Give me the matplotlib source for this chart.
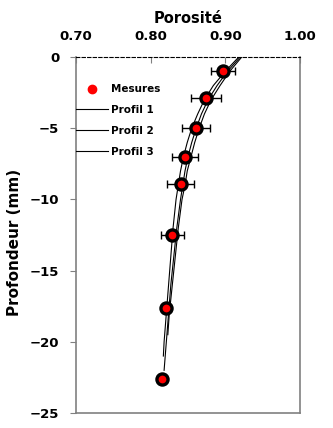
import numpy as np
import matplotlib.pyplot as plt

# measured porosity vs depth (mm)
depth_mes = [-1.0, -2.9, -5.0, -7.0, -8.9, -12.5, -17.6, -22.6]
poro_mes = [0.897, 0.874, 0.861, 0.846, 0.840, 0.829, 0.8205, 0.8155]
err_mes = [0.016, 0.020, 0.019, 0.018, 0.018, 0.015, 0.0, 0.0]

# model profiles
depth_p1 = [0, -1, -2, -3, -4, -5, -6, -7, -8, -9, -10, -12, -14, -16, -18, -20, -21.0]
poro_p1 = [0.918, 0.900, 0.884, 0.872, 0.863, 0.855, 0.849, 0.844, 0.840, 0.837, 0.834,
           0.830, 0.827, 0.824, 0.821, 0.818, 0.817]
depth_p2 = [0, -1, -2, -3, -4, -5, -6, -7, -8, -9, -10, -12, -14, -16, -18, -20, -22.0]
poro_p2 = [0.920, 0.903, 0.889, 0.877, 0.868, 0.861, 0.855, 0.850, 0.846, 0.843, 0.840,
           0.835, 0.831, 0.827, 0.824, 0.821, 0.818]
depth_p3 = [0, -1, -2, -3, -4, -5, -6, -7, -8, -9, -10, -12, -14, -16, -18, -19.5]
poro_p3 = [0.922, 0.906, 0.893, 0.881, 0.872, 0.865, 0.859, 0.854, 0.849, 0.846, 0.842,
           0.837, 0.833, 0.829, 0.825, 0.823]

xticks = [0.70, 0.80, 0.90, 1.00]
yticks = [0, -5, -10, -15, -20, -25]

fig = plt.figure(figsize=(3.33, 4.28), dpi=100)
ax = fig.add_axes([0.2282, 0.035, 0.6727, 0.8318])

ax.plot(poro_p1, depth_p1, color='black', lw=0.8, label='Profil 1')
ax.plot(poro_p2, depth_p2, color='black', lw=0.8, label='Profil 2')
ax.plot(poro_p3, depth_p3, color='black', lw=0.8, label='Profil 3')

ax.errorbar(poro_mes, depth_mes, xerr=err_mes, fmt='none', ecolor='black',
            elinewidth=1, capsize=3, capthick=1, zorder=3)
ax.plot(poro_mes, depth_mes, 'o', ms=8, mfc='red', mec='black', mew=2.4,
        zorder=4)
# legend handle for the measurements (small red dot)
ax.plot([], [], 'o', ms=6, mfc='red', mec='red', label='Mesures')

ax.set_xlim(0.70, 1.00)
ax.set_ylim(-25, 0)
ax.xaxis.set_ticks_position('top')
ax.xaxis.set_label_position('top')
ax.set_xticks(xticks)
ax.set_xticklabels(['%.2f' % v for v in xticks])
ax.set_yticks(yticks)
ax.tick_params(axis='x', direction='in', length=4, color='#808080', pad=10,
               labelsize=9.5)
ax.tick_params(axis='y', direction='out', length=4, color='#808080', pad=8,
               labelsize=9.5)
for lbl in ax.get_xticklabels() + ax.get_yticklabels():
    lbl.set_fontweight('bold')

for s in ['left', 'right', 'bottom']:
    ax.spines[s].set_color('#808080')
    ax.spines[s].set_linewidth(1.2)
ax.spines['top'].set_linestyle((0, (3, 2)))
ax.spines['top'].set_color('black')
ax.spines['top'].set_linewidth(0.8)

ax.set_xlabel('Porosité', fontsize=10.5, fontweight='bold', labelpad=5)
ax.set_ylabel('Profondeur (mm)', fontsize=11, fontweight='bold')
ax.yaxis.set_label_coords(-0.24, 0.48)

handles, labels = ax.get_legend_handles_labels()
order = [3, 0, 1, 2]
ax.legend([handles[i] for i in order], [labels[i] for i in order],
          loc='upper left', bbox_to_anchor=(-0.04, 0.95), frameon=False,
          prop={'weight': 'bold', 'size': 7.5}, handlelength=3.0,
          handletextpad=0.3, labelspacing=1.05)

fig.savefig('out.png', dpi=100)
